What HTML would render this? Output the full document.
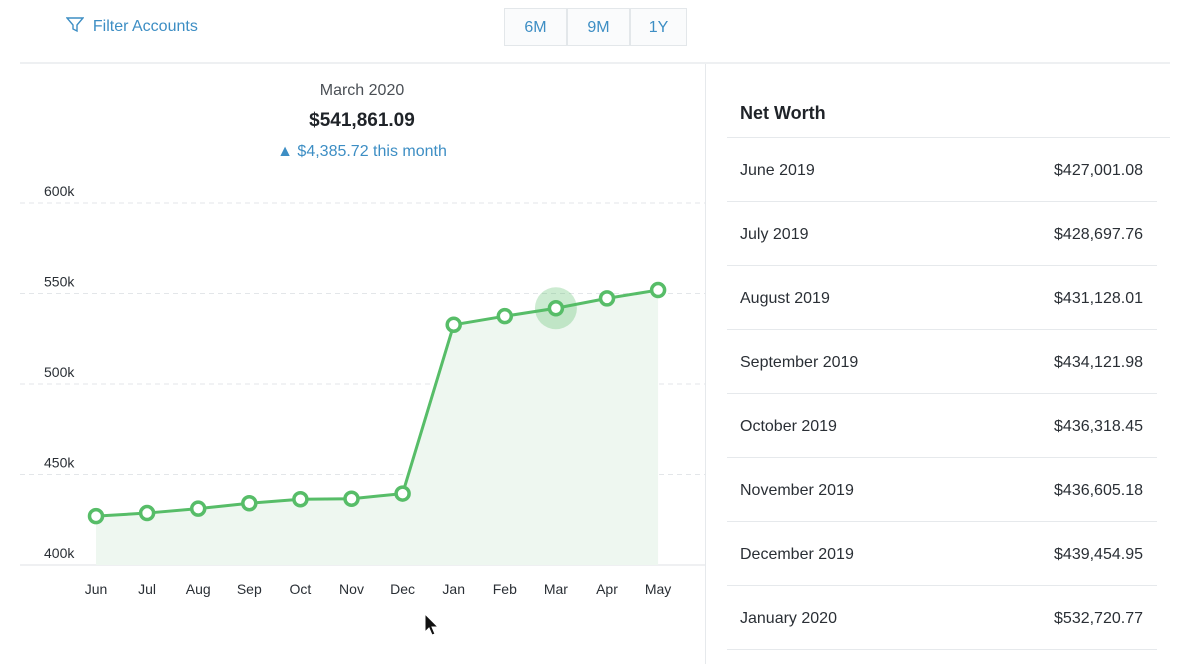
<!DOCTYPE html>
<html><head><meta charset="utf-8"><style>
body{margin:0;width:1192px;height:664px;background:#fff;font-family:"Liberation Sans",sans-serif;overflow:hidden;position:relative}
.a{position:absolute}
.row{position:absolute;left:727px;width:430px;height:63px;border-bottom:1px solid #e6e9ec;font-size:16px;color:#2a2f35}
.row span{position:absolute;top:24px}
.row .v{right:14px}
.btn{position:absolute;top:8px;height:38px;width:63px;border:1px solid #e3e7ea;background:#fafbfc;color:#3d8ec4;font-size:16px;text-align:center;line-height:38px;box-sizing:border-box}
</style></head><body>
<div class="a" style="left:66px;top:17px;color:#3d8ec4;font-size:16px">
<svg width="18" height="16" viewBox="0 0 18 16" style="vertical-align:-2px"><path d="M1 1h16l-6 7v6l-4-2V8z" fill="none" stroke="#3d8ec4" stroke-width="1.4"/></svg>&nbsp; Filter Accounts</div>
<div class="btn" style="left:504px">6M</div>
<div class="btn" style="left:567px">9M</div>
<div class="btn" style="left:630px;width:57px">1Y</div>
<div class="a" style="left:20px;top:62px;width:1150px;height:2px;background:#eef0f2"></div>
<div class="a" style="left:705px;top:64px;width:1px;height:600px;background:#e6e9ec"></div>
<div class="a" style="left:262px;width:200px;text-align:center;top:82px;font-size:16px;color:#4a4f55">March 2020</div>
<div class="a" style="left:262px;width:200px;text-align:center;top:110px;font-size:19px;font-weight:bold;color:#1f2328">$541,861.09</div>
<div class="a" style="left:232px;width:260px;text-align:center;top:143px;font-size:16px;color:#3d8ec4">▲ $4,385.72 this month</div>
<svg class="a" id="chart" style="left:0;top:0" width="706" height="664"></svg>
<div class="a" style="left:740px;top:103px;font-size:18px;font-weight:bold;color:#1f2328">Net Worth</div>
<div class="a" style="left:727px;top:137px;width:443px;height:1px;background:#e6e9ec"></div>
<div id="tbl"></div>
<svg class="a" style="left:424px;top:613px" width="16" height="24"><path d="M1 1v18l4-4 3 7 3-1-3-7h6z" fill="#111" stroke="#fff" stroke-width="1"/></svg>
<script>
const months=["Jun","Jul","Aug","Sep","Oct","Nov","Dec","Jan","Feb","Mar","Apr","May"];
const values=[427001.08,428697.76,431128.01,434121.98,436318.45,436605.18,439454.95,532720.77,537475.37,541861.09,547300,551900];
const yTicks=[400000,450000,500000,550000,600000];
const yTickLabels=["400k","450k","500k","550k","600k"];
const tableLabels=["June 2019","July 2019","August 2019","September 2019","October 2019","November 2019","December 2019","January 2020"];
const tableValues=["$427,001.08","$428,697.76","$431,128.01","$434,121.98","$436,318.45","$436,605.18","$439,454.95","$532,720.77"];
const selectedIndex=9;
const NS="http://www.w3.org/2000/svg",svg=document.getElementById('chart');
const x=i=>96+i*51.1, y=v=>565-(v-400000)/50000*90.5;
function mk(t,a){const e=document.createElementNS(NS,t);for(const k in a)e.setAttribute(k,a[k]);svg.appendChild(e);return e;}
yTicks.forEach((t,i)=>{
 const l=mk('line',{x1:20,x2:705,y1:y(t),y2:y(t),stroke:i?'#e3e6e9':'#dfe2e5','stroke-dasharray':i?'5,4':'none'});
 
 
 const tx=mk('text',{x:44,y:y(t)-7,'font-size':14,fill:'#2a2f35'});tx.textContent=yTickLabels[i];
 
 
});
let d='M'+x(0)+','+y(values[0]);values.forEach((v,i)=>{if(i)d+=' L'+x(i)+','+y(v);});
const area=mk('path',{d:d+' L'+x(values.length-1)+',565 L'+x(0)+',565 Z',fill:'#eef7f0'});


const ln=mk('path',{d:d,fill:'none',stroke:'#57bd68','stroke-width':3});


const hl=mk('circle',{cx:x(selectedIndex),cy:y(values[selectedIndex]),r:21,fill:'#57bd68','fill-opacity':0.3});


values.forEach((v,i)=>{
 const c=mk('circle',{cx:x(i),cy:y(v),r:6.5,fill:'#fff',stroke:'#57bd68','stroke-width':3.5});
 
 
 const t=mk('text',{x:x(i),y:594,'font-size':14,fill:'#2a2f35','text-anchor':'middle'});t.textContent=months[i];
 
 
});
const tb=document.getElementById('tbl');
tableLabels.forEach((l,i)=>{
 const r=document.createElement('div');r.className='row';r.style.top=(138+i*64)+'px';
 
 
 r.innerHTML='<span style="left:13px">'+l+'</span><span class="v">'+tableValues[i]+'</span>';
 tb.appendChild(r);
});
</script>
</body></html>
